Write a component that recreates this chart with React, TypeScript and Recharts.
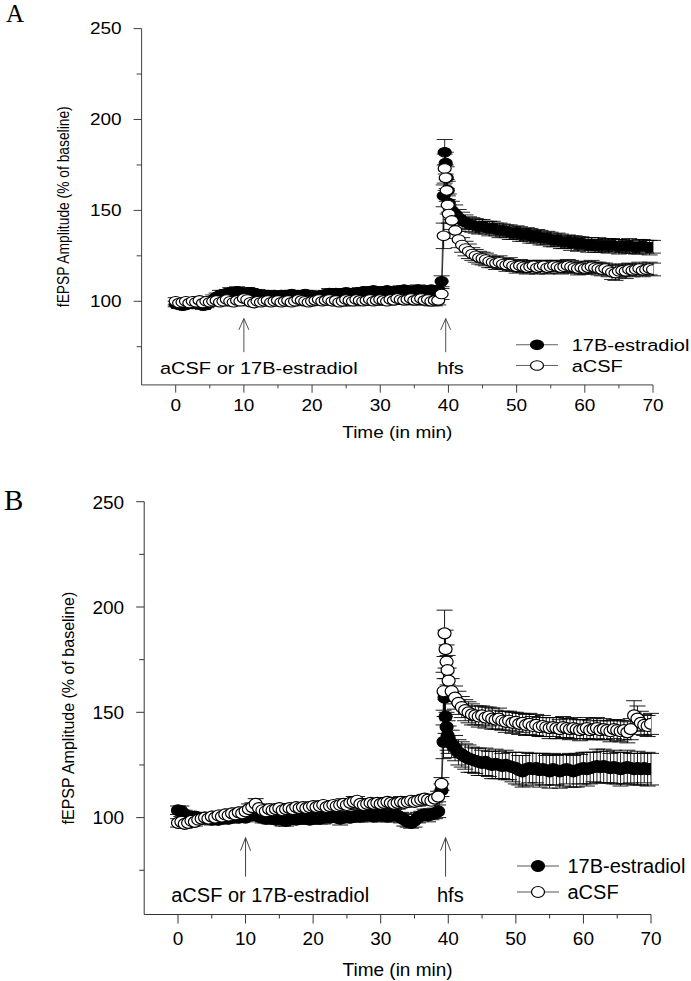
import React from "react";
import {
  ErrorBar,
  Legend,
  Line,
  LineChart,
  ReferenceDot,
  ReferenceLine,
  XAxis,
  YAxis,
} from "recharts";

// sample times (min): baseline every 30 s, fast sampling right after hfs
const timeBase = [
  0, 0.5, 1, 1.5, 2, 2.5, 3, 3.5, 4, 4.5, 5, 5.5, 6, 6.5, 7, 7.5, 8, 8.5, 9, 9.5,
  10, 10.5, 11, 11.5, 12, 12.5, 13, 13.5, 14, 14.5, 15, 15.5, 16, 16.5, 17, 17.5, 18, 18.5, 19, 19.5,
  20, 20.5, 21, 21.5, 22, 22.5, 23, 23.5, 24, 24.5, 25, 25.5, 26, 26.5, 27, 27.5, 28, 28.5, 29, 29.5,
  30, 30.5, 31, 31.5, 32, 32.5, 33, 33.5, 34, 34.5, 35, 35.5, 36, 36.5, 37, 37.5, 38, 38.5, 39,
];
const timePost = [
  39.3, 39.45, 39.6, 39.75, 39.9, 40.05,
  40.5, 41, 41.5, 42, 42.5, 43, 43.5, 44, 44.5, 45, 45.5, 46, 46.5, 47, 47.5, 48, 48.5, 49, 49.5, 50,
  50.5, 51, 51.5, 52, 52.5, 53, 53.5, 54, 54.5, 55, 55.5, 56, 56.5, 57, 57.5, 58, 58.5, 59, 59.5, 60,
  60.5, 61, 61.5, 62, 62.5, 63, 63.5, 64, 64.5, 65, 65.5, 66, 66.5, 67, 67.5, 68, 68.5, 69, 69.5, 70,
];

const xTicks = [0, 5, 10, 15, 20, 25, 30, 35, 40, 45, 50, 55, 60, 65, 70];
const yTicks = [75, 100, 125, 150, 175, 200, 225, 250];

// ---- panel A ----
const aEstBase = [
  98.5, 98, 97.5, 98, 99, 98.5, 99, 98.5, 97.5, 98,
  99.5, 101, 102.5, 103.5, 104, 104.5, 105, 105, 105.5, 105,
  104.5, 105, 105, 104.5, 104, 103.5, 103, 103.5, 103, 103.5,
  103, 103.5, 103, 103.5, 104, 103.5, 103, 103.5, 104, 103.5,
  103, 102.5, 103, 103.5, 104, 104.5, 104, 104.5, 104, 104.5,
  105, 104.5, 104, 104.5, 105, 105.5, 105, 105.5, 106, 105.5,
  105, 105.5, 106, 105.5, 105, 105.5, 106, 106.5, 106, 105.5,
  106, 106.5, 106, 105.5, 106, 106.5, 106, 106.5, 111,
];
const aEstBaseErr = [
  1.5, 2, 1.5, 2, 1.5, 2, 2.5, 1.5, 2, 1.5,
  2, 2.5, 2, 2.5, 2, 2, 2.5, 2, 2.5, 2,
  2, 2.5, 2, 2, 2.5, 2, 2, 2.5, 2, 2,
  2.5, 2, 2, 2.5, 2, 2, 2.5, 2, 2, 2.5,
  2, 2, 2.5, 2, 2, 2.5, 2, 2, 2.5, 2,
  2, 2.5, 2, 2, 2.5, 2, 2, 2.5, 2, 2,
  2.5, 2, 2, 2.5, 2, 2, 2.5, 2, 2, 2.5,
  2, 2.5, 2, 2, 2.5, 2, 2.5, 2, 3,
];
const aEstPost = [
  158, 182, 176, 168, 161, 154,
  150, 148, 146, 144.5, 143.5, 142.5, 142, 141.5, 141, 141.5,
  140.5, 140, 140.5, 139.5, 139, 139, 138.5, 138, 137.5, 138,
  137, 136.5, 137, 136, 135.5, 136, 135, 134.5, 135, 134,
  133.5, 134, 133, 132.5, 133, 132, 132.5, 131.5, 132, 131.5,
  131, 131.5, 130.5, 131, 130.5, 131, 130.5, 131, 130.5, 130,
  130.5, 130, 130.5, 130, 129.5, 130, 130.5, 130, 129.5, 130,
];
const aEstPostErr = [
  6, 7, 6, 6, 5, 5,
  5, 5, 4.5, 4.5, 4, 4, 4, 4, 4, 3.5,
  3.5, 4, 3.5, 3.5, 4, 3.5, 3.5, 4, 3.5, 3.5,
  4, 3.5, 3.5, 4, 3.5, 3.5, 4, 3.5, 3.5, 4,
  3.5, 3.5, 4, 3.5, 3.5, 4, 3.5, 4, 3.5, 3.5,
  4, 3.5, 3.5, 4, 3.5, 3.5, 4, 3.5, 3.5, 4,
  3.5, 3.5, 4, 3.5, 3.5, 4, 3.5, 3.5, 4, 3.5,
];
const aCsfBase = [
  100, 99, 99.5, 100, 99, 100, 99.5, 100.5, 99, 100,
  99.5, 100, 100.5, 99.5, 100, 101, 100, 99.5, 100.5, 100,
  101.5, 101, 99.5, 99, 100, 99.5, 100, 100.5, 99.5, 100,
  100.5, 99.5, 100, 100.5, 99.5, 100, 101, 100.5, 100, 99.5,
  100, 100.5, 101, 100, 100.5, 101, 100, 100.5, 99.5, 100,
  101, 100.5, 100, 101, 100.5, 100, 100.5, 101, 100, 100.5,
  101, 100.5, 100, 101, 100.5, 101.5, 101, 100.5, 101, 101.5,
  100.5, 101, 101.5, 100.5, 101, 100, 100.5, 100.5, 104,
];
const aCsfBaseErr = [
  2, 1.5, 2, 1.5, 2, 2, 1.5, 2, 2, 1.5,
  2, 2, 1.5, 2, 2, 2.5, 2, 2, 1.5, 2,
  2.5, 2, 2, 1.5, 2, 2, 2, 1.5, 2, 2,
  2, 2, 2.5, 2, 2, 1.5, 2, 2, 2, 2,
  2, 2.5, 2, 2, 2, 2.5, 2, 2, 2, 2.5,
  2, 2, 2.5, 2, 2, 2, 2.5, 2, 2, 2.5,
  2.5, 2, 2, 2.5, 2, 3, 2.5, 2, 2.5, 3,
  2.5, 2, 3, 2.5, 2, 2.5, 3, 2.5, 3,
];
const aCsfPost = [
  136, 173, 168, 161, 153, 148,
  144.5, 139, 134, 131, 129, 127.5, 126, 125, 124, 123.5,
  123, 122, 121.5, 121, 121.5, 120.5, 120, 120.5, 119.5, 119,
  119.5, 119, 118.5, 119, 119.5, 118.5, 119, 119.5, 118.5, 119,
  119.5, 119, 118.5, 119, 119.5, 119, 118.5, 118, 118.5, 118,
  118.5, 119, 118.5, 118, 117.5, 118, 117, 116, 115.5, 116.5,
  117, 116.5, 117.5, 117, 117.5, 118, 117, 117.5, 118, 117.5,
];
const aCsfPostErr = [
  7, 8, 7, 6, 5, 5,
  5, 4.5, 4.5, 4, 4, 4, 3.5, 3.5, 3.5, 3.5,
  3.5, 3.5, 3, 3.5, 3.5, 3, 3.5, 3.5, 3, 3.5,
  3.5, 3, 3.5, 3.5, 3, 3.5, 3.5, 3, 3.5, 3.5,
  3, 3.5, 3.5, 3, 3.5, 3.5, 3, 3.5, 3.5, 3,
  3.5, 3.5, 3, 3.5, 3.5, 3, 3.5, 4, 4, 3.5,
  3.5, 4, 3.5, 3.5, 3, 3.5, 3.5, 3, 3.5, 3.5,
];

// ---- panel B ----
const bEstBase = [
  103.5, 103, 101.5, 100.5, 100, 100.5, 100, 99.5, 100, 99.5,
  99, 99.5, 99, 99.5, 100, 99.5, 100, 100.5, 100, 100.5,
  100, 101, 101.5, 101, 100.5, 100, 99.5, 100, 99.5, 99,
  99.5, 99, 98.5, 99, 99.5, 99, 99.5, 100, 99.5, 99,
  99.5, 100, 99.5, 100, 100.5, 100, 100.5, 100, 99.5, 100,
  100.5, 100, 100.5, 101, 100.5, 101, 101.5, 101, 100.5, 101,
  101.5, 101, 100.5, 101, 101.5, 101, 100, 99, 98, 97.5,
  98.5, 100, 101, 101.5, 101, 101.5, 102, 103, 113,
];
const bEstBaseErr = [
  2, 2.5, 2, 2, 2.5, 2, 2, 2.5, 2, 2,
  2.5, 2, 2, 2.5, 2, 2, 2.5, 2, 2, 2.5,
  2, 2, 2.5, 2, 2, 2.5, 2, 3, 2.5, 2,
  2.5, 3, 2.5, 2, 2.5, 2, 2.5, 3, 2.5, 2,
  2.5, 2, 2.5, 3, 2.5, 2, 2.5, 2, 3, 2.5,
  2.5, 2, 2.5, 3, 2.5, 2, 2.5, 3, 2, 2.5,
  2.5, 3, 2.5, 2, 2.5, 3, 2.5, 3, 2.5, 2.5,
  3, 2.5, 2, 2.5, 3, 2.5, 2.5, 3, 3,
];
const bEstPost = [
  136, 157, 148, 143, 139, 137,
  135, 133, 131, 130, 129, 128, 127.5, 127, 126.5, 126,
  126.5, 125.5, 125, 125.5, 125, 124.5, 125, 124.5, 124, 123.5,
  122.5, 122, 123, 123.5, 123, 123.5, 122.5, 123, 122.5, 122,
  123, 122.5, 122, 122.5, 123, 122.5, 122, 122.5, 123, 123.5,
  123, 123.5, 124, 124.5, 124, 124.5, 124, 123.5, 124, 123.5,
  123, 123.5, 124, 123.5, 123, 123.5, 123, 123.5, 123, 123,
];
const bEstPostErr = [
  8, 9, 8, 7, 7, 6.5,
  6.5, 6, 6, 6, 6, 6.5, 6, 6, 6.5, 6,
  6.5, 6, 6.5, 7, 6.5, 6, 7, 6.5, 7, 7.5,
  7, 7.5, 8, 7, 7.5, 7, 8, 7.5, 7, 8,
  7.5, 7, 8, 7.5, 7, 8, 7.5, 8, 7, 7.5,
  8, 7.5, 7, 8, 7.5, 8, 7.5, 7, 8, 7.5,
  8, 7.5, 8, 7, 7.5, 8, 7.5, 7, 8, 7.5,
];
const bCsfBase = [
  97.5, 98, 97, 97.5, 98.5, 98, 99, 99.5, 100, 99.5,
  100.5, 100, 101, 100.5, 101.5, 101, 102, 101.5, 102.5, 102,
  103, 104, 105, 106.5, 104.5, 103.5, 103, 104, 103.5, 104,
  104.5, 103.5, 104, 104.5, 104, 105, 104.5, 105, 104.5, 105,
  105.5, 105, 105.5, 106, 105, 105.5, 106, 105.5, 106, 106.5,
  106, 107, 107.5, 108, 106.5, 106, 106.5, 107, 106.5, 107,
  106.5, 107, 107.5, 107, 106.5, 107, 107.5, 107, 107.5, 108,
  107.5, 108, 108.5, 109, 108.5, 108, 109, 110, 116,
];
const bCsfBaseErr = [
  2, 1.5, 2, 2, 1.5, 2, 2, 1.5, 2, 2,
  1.5, 2, 2, 1.5, 2, 2, 2, 1.5, 2, 2,
  2, 2.5, 2, 2.5, 2, 2, 1.5, 2, 2, 2,
  2, 1.5, 2, 2, 2, 1.5, 2, 2, 2, 1.5,
  2, 2, 1.5, 2, 2, 2, 1.5, 2, 2, 2.5,
  2, 2, 2.5, 2, 2, 1.5, 2, 2, 2, 1.5,
  2, 2, 2, 1.5, 2, 2, 2.5, 2, 2, 2,
  2, 2.5, 2, 2, 2.5, 2, 2, 2.5, 3,
];
const bCsfPost = [
  160, 187.5, 180, 174, 170, 165,
  160, 157, 154.5, 152.5, 151, 150, 149, 148.5, 148, 148.5,
  147.5, 148, 147, 146.5, 147, 146, 145.5, 146, 145, 145.5,
  144.5, 145, 144, 144.5, 143.5, 144, 143, 143.5, 143, 142.5,
  143, 142.5, 142, 143, 142.5, 142, 142.5, 142, 141.5, 142,
  142.5, 141.5, 142, 142.5, 141.5, 142, 141.5, 141, 142, 141.5,
  141, 141.5, 140.5, 142, 148.5, 147, 145, 144, 143.5, 144.5,
];
const bCsfPostErr = [
  9, 11, 9, 8, 7, 6,
  6, 5.5, 5.5, 5, 5, 5, 5, 4.5, 5, 4.5,
  5, 4.5, 5, 4.5, 5, 4.5, 5, 4.5, 5, 4.5,
  5, 4.5, 5, 5, 4.5, 5, 4.5, 5, 4.5, 5,
  4.5, 5, 4.5, 5, 4.5, 5, 5, 4.5, 5, 4.5,
  5, 4.5, 5, 5, 4.5, 5, 4.5, 5, 4.5, 5,
  5, 4.5, 5, 5, 7, 6, 5.5, 5, 5, 5,
];

const legendNames = ["17B-estradiol", "aCSF"];
const FONT = "'Liberation Sans', Arial, Helvetica, sans-serif";
const AXIS = "#333";
const RX = 6.5;
const RY = 5.5;

type Pt = { t: number; v: number; e: number };

function toPoints(base: number[], baseErr: number[], post: number[], postErr: number[]): Pt[] {
  const times = timeBase.concat(timePost);
  const vals = base.concat(post);
  const errs = baseErr.concat(postErr);
  return times.map((t, i) => ({ t, v: vals[i], e: errs[i] }));
}

function XTick(p: any) {
  const v = p.payload.value;
  const major = v % 10 === 0;
  const axisY = p.y - 17;
  return (
    <g>
      <line x1={p.x} x2={p.x} y1={axisY} y2={axisY + (major ? 9 : 4)} stroke={AXIS} />
      {major && (
        <text x={p.x} y={p.y} dy="0.72em" textAnchor="middle" fontSize={19} fontFamily={FONT} fill="#000">
          {v}
        </text>
      )}
    </g>
  );
}

function YTick(p: any) {
  const v = p.payload.value;
  const major = v % 50 === 0;
  const axisX = p.x + 20;
  return (
    <g>
      <line x1={axisX - (major ? 8 : 5)} x2={axisX} y1={p.y} y2={p.y} stroke={AXIS} />
      {major && (
        <text x={p.x} y={p.y} dy="0.36em" textAnchor="end" fontSize={19} fontFamily={FONT} fill="#000">
          {v}
        </text>
      )}
    </g>
  );
}

function Arrow(p: any) {
  const top = Math.min(p.y1, p.y2);
  const bot = Math.max(p.y1, p.y2);
  return (
    <g stroke="#444" strokeWidth={1} fill="none">
      <line x1={p.x1} x2={p.x1} y1={top} y2={bot} />
      <polyline points={`${p.x1 - 5},${top + 13} ${p.x1},${top} ${p.x1 + 5},${top + 13}`} />
    </g>
  );
}

const filledDot = (p: any) => (
  <ellipse key={`f${p.index}`} cx={p.cx} cy={p.cy} rx={RX} ry={RY} fill="#000" stroke="#000" strokeWidth={1.2} />
);
const openDot = (p: any) => (
  <ellipse key={`o${p.index}`} cx={p.cx} cy={p.cy} rx={RX} ry={RY} fill="#fff" stroke="#000" strokeWidth={1.2} />
);

type PanelProps = {
  est: Pt[];
  csf: Pt[];
  height: number;
  top: number;
  left: number;
  right: number;
  yLabelX: number;
  legendLeft: number;
  legendTop: number;
  legendGap: number;
  legendTextX: number;
  annoStart: number;
};

function Panel(props: PanelProps) {
  const { est, csf, height, top, left, right, yLabelX } = props;
  const xAxisH = 60;
  const bottom = 6.5;
  const plotH = height - top - bottom - xAxisH;
  const axisY = top + plotH;
  const midX = (left + (691 - right)) / 2;
  const midY = top + plotH / 2;

  const legend = () => (
    <svg width={190} height={props.legendGap + 28} style={{ display: "block" }}>
      {legendNames.map((name, i) => {
        const cy = 13 + i * props.legendGap;
        return (
          <g key={name}>
            <line x1={0} x2={42} y1={cy} y2={cy} stroke="#555" strokeWidth={1} />
            <ellipse cx={21} cy={cy} rx={RX} ry={RY} fill={i === 0 ? "#000" : "#fff"} stroke="#000" strokeWidth={1.2} />
            <text x={props.legendTextX} y={cy} dy="0.36em" fontSize={20} fontFamily={FONT} fill="#000">
              {name}
            </text>
          </g>
        );
      })}
    </svg>
  );

  return (
    <LineChart width={691} height={height} margin={{ top, right, bottom, left: 0 }}>
      <XAxis
        dataKey="t"
        type="number"
        domain={[-5, 70]}
        ticks={xTicks}
        allowDataOverflow
        height={xAxisH}
        tickSize={9}
        tickMargin={8}
        tickLine={false}
        axisLine={{ stroke: AXIS }}
        tick={(p: any) => <XTick {...p} />}
        label={{
          content: () => (
            <text x={midX} y={axisY + 55} dy="0.36em" textAnchor="middle" fontSize={19} fontFamily={FONT} fill="#000">
              Time (in min)
            </text>
          ),
        }}
      />
      <YAxis
        type="number"
        domain={[54, 250]}
        ticks={yTicks}
        allowDataOverflow
        width={left}
        tickSize={8}
        tickMargin={12}
        tickLine={false}
        axisLine={{ stroke: AXIS }}
        tick={(p: any) => <YTick {...p} />}
        label={{
          content: () => (
            <text
              x={yLabelX}
              y={midY}
              dy="0.36em"
              textAnchor="middle"
              fontSize={16}
              fontFamily={FONT}
              fill="#000"
              transform={`rotate(-90 ${yLabelX} ${midY})`}
            >
              fEPSP Amplitude (% of baseline)
            </text>
          ),
        }}
      />
      <ReferenceLine segment={[{ x: 10, y: 72 }, { x: 10, y: 90.5 }]} shape={(p: any) => <Arrow {...p} />} />
      <ReferenceLine segment={[{ x: 39.6, y: 72 }, { x: 39.6, y: 90.5 }]} shape={(p: any) => <Arrow {...p} />} />
      <ReferenceDot
        x={props.annoStart}
        y={63.5}
        shape={(p: any) => (
          <text x={p.cx} y={p.cy} dy="0.36em" fontSize={20} fontFamily={FONT} fill="#000">
            aCSF or 17B-estradiol
          </text>
        )}
      />
      <ReferenceDot
        x={40.3}
        y={63.5}
        shape={(p: any) => (
          <text x={p.cx} y={p.cy} dy="0.36em" textAnchor="middle" fontSize={20} fontFamily={FONT} fill="#000">
            hfs
          </text>
        )}
      />
      <Legend
        layout="vertical"
        align="center"
        verticalAlign="middle"
        wrapperStyle={{ left: props.legendLeft, top: props.legendTop, width: 190 }}
        content={legend}
      />
      <Line
        data={est}
        dataKey="v"
        name={legendNames[0]}
        type="linear"
        stroke="#000"
        strokeWidth={0.8}
        dot={filledDot}
        activeDot={false}
        isAnimationActive={false}
      >
        <ErrorBar dataKey="e" width={8} stroke="#000" strokeWidth={0.9} direction="y" isAnimationActive={false} />
      </Line>
      <Line
        data={csf}
        dataKey="v"
        name={legendNames[1]}
        type="linear"
        stroke="#000"
        strokeWidth={0.8}
        dot={openDot}
        activeDot={false}
        isAnimationActive={false}
      >
        <ErrorBar dataKey="e" width={8} stroke="#000" strokeWidth={0.9} direction="y" isAnimationActive={false} />
      </Line>
    </LineChart>
  );
}

export default function App() {
  const aEst = toPoints(aEstBase, aEstBaseErr, aEstPost, aEstPostErr);
  const aCsf = toPoints(aCsfBase, aCsfBaseErr, aCsfPost, aCsfPostErr);
  const bEst = toPoints(bEstBase, bEstBaseErr, bEstPost, bEstPostErr);
  const bCsf = toPoints(bCsfBase, bCsfBaseErr, bCsfPost, bCsfPostErr);

  const letter = { position: "absolute" as const, fontFamily: "'Liberation Serif', 'Times New Roman', serif", color: "#000", lineHeight: 1 };

  return (
    <div style={{ position: "absolute", left: 0, top: 0, width: 691, height: 981, background: "#fff", overflow: "hidden" }}>
      <div style={{ ...letter, left: 6, top: 1, fontSize: 25 }}>A</div>
      <div style={{ ...letter, left: 4, top: 486, fontSize: 29 }}>B</div>

      {/* panel A is printed squashed vertically in the source figure */}
      <div style={{ position: "absolute", left: 0, top: 0, transform: "scaleY(0.864)", transformOrigin: "0 0" }}>
        <Panel
          est={aEst}
          csf={aCsf}
          height={512}
          top={33.1}
          left={141.6}
          right={38}
          yLabelX={63}
          legendLeft={516}
          legendTop={385.5}
          legendGap={24}
          legendTextX={55.7}
          annoStart={-2.3}
        />
      </div>

      <div style={{ position: "absolute", left: 0, top: 491 }}>
        <Panel
          est={bEst}
          csf={bCsf}
          height={490}
          top={10.7}
          left={144.2}
          right={40}
          yLabelX={68}
          legendLeft={517}
          legendTop={362}
          legendGap={26}
          legendTextX={50.5}
          annoStart={-1}
        />
      </div>
    </div>
  );
}
